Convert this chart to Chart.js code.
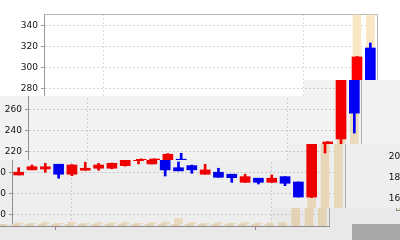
<!DOCTYPE html>
<html>
<head>
<meta charset="utf-8">
<script src="https://cdn.jsdelivr.net/npm/chart.js@4.4.1/dist/chart.umd.min.js"></script>
<style>
    html, body { margin: 0; padding: 0; background: #fff; overflow: hidden; }
    canvas { display: block; }
</style>
</head>
<body>
<canvas id="c" width="400" height="240"></canvas>
<script>
/* ── Data ── */
const days    = ['1','2','3','4','5','6','7','8','9','10','11','12','13','14','15','16','17','18','19','20','21','22','23','24','25'];
const opens   = [198.1, 203.0, 203.8, 208.3, 198.8, 202.6, 204.5, 204.5, 207.0, 211.7, 208.6, 213.1, 205.0, 207.0, 198.8, 200.7, 198.8, 191.1, 195.0, 191.1, 196.5, 191.4, 177.1, 232.4, 319.0];
const closes  = [200.7, 206.0, 205.9, 198.8, 207.6, 204.5, 207.6, 209.2, 213.0, 213.3, 217.8, 202.9, 202.0, 203.0, 202.9, 195.9, 195.5, 196.5, 191.1, 195.0, 190.2, 177.1, 229.5, 310.5, 257.0];
const highs   = [205.0, 207.6, 209.2, 208.3, 208.0, 210.2, 209.2, 209.5, 213.5, 213.5, 218.5, 218.8, 210.5, 207.5, 208.3, 204.5, 198.8, 198.8, 195.0, 198.1, 196.5, 191.4, 230.0, 311.0, 323.8];
const lows    = [198.1, 203.0, 200.7, 195.0, 197.4, 202.6, 202.6, 204.0, 206.5, 208.6, 208.6, 197.1, 202.0, 199.7, 198.8, 195.9, 191.1, 191.1, 189.5, 191.1, 187.9, 177.0, 176.5, 219.0, 238.0];
const volumes = [1.4, 1.2, 1.6, 1.3, 1.8, 1.2, 1.5, 1.4, 1.7, 1.3, 1.5, 1.8, 3.5, 1.6, 1.2, 1.5, 1.3, 1.6, 1.4, 1.5, 1.3, 1.6, 25, 99.5, 99.5];

const yTicks   = [160, 180, 200, 220, 240, 260, 280, 300, 320, 340];
const gridDays = [4, 19];
const yMin = 149.5, yMax = 351.4;

const UP   = '#ff0000';
const DOWN = '#0000ff';
const VOL  = '#f9e7c6';
const gridColor = '#d9d9d9';
const axisColor = '#9a9a9a';

/* ── Damaged image: 16px tiles, three tiles lost in the stream ── */
const TILE = 16;
const lostTiles   = [[19, 5], [18, 9], [17, 13]];
const regionShade = [0, 0.05, 0.068, 0.088];

const candleColor = opens.map((o, i) => closes[i] >= o ? UP : DOWN);

const background = {
    id: 'background',
    beforeDraw(chart) {
        const { ctx, width, height } = chart;
        ctx.save();
        ctx.fillStyle = '#fff';
        ctx.fillRect(0, 0, width, height);
        ctx.restore();
    }
};

const plotFrame = {
    id: 'plotFrame',
    beforeDatasetsDraw(chart) {
        const { ctx, chartArea: a } = chart;
        ctx.save();
        ctx.strokeStyle = '#b8b8b8';
        ctx.lineWidth = 1;
        ctx.beginPath();
        ctx.moveTo(a.left, Math.round(a.top) + 0.5);
        ctx.lineTo(Math.round(a.right) + 0.5, Math.round(a.top) + 0.5);
        ctx.lineTo(Math.round(a.right) + 0.5, a.bottom);
        ctx.stroke();
        ctx.restore();
    }
};

const tileShift = {
    id: 'tileShift',
    afterDraw(chart) {
        const cv = chart.canvas, ctx = chart.ctx;
        const copy = document.createElement('canvas');
        copy.width = cv.width;
        copy.height = cv.height;
        copy.getContext('2d').drawImage(cv, 0, 0);

        const cols = Math.ceil(cv.width / TILE), rows = Math.ceil(cv.height / TILE);
        const lost = lostTiles.map(([c, r]) => r * cols + c);

        ctx.save();
        ctx.setTransform(1, 0, 0, 1, 0, 0);
        for (let i = 0; i < cols * rows; i++) {
            const k = lost.filter(l => l <= i).length;
            if (!k) continue;
            const x = (i % cols) * TILE, y = Math.floor(i / cols) * TILE;
            const s = i + k;
            if (s >= cols * rows) {
                // nothing left in the stream for the last tiles
                ctx.fillStyle = '#a8a8a8';
                ctx.fillRect(x, y, TILE, TILE);
                ctx.fillStyle = '#bebebe';
                for (let dy = 3; dy < TILE; dy += 8)
                    for (let dx = 4; dx < TILE; dx += 9) ctx.fillRect(x + dx, y + dy, 1, 1);
                continue;
            }
            ctx.drawImage(copy, (s % cols) * TILE, Math.floor(s / cols) * TILE, TILE, TILE, x, y, TILE, TILE);
            ctx.fillStyle = `rgba(0,0,0,${regionShade[k]})`;
            ctx.fillRect(x, y, TILE, TILE);
        }
        ctx.restore();
    }
};

/* ── Chart ── */
new Chart(document.getElementById('c'), {
    type: 'bar',
    data: {
        labels: days,
        datasets: [
            {
                label: 'body',
                data: opens.map((o, i) => [o, closes[i]]),
                backgroundColor: candleColor,
                barThickness: 10,
                grouped: false,
                order: 1
            },
            {
                label: 'wick',
                data: lows.map((l, i) => [l, highs[i]]),
                backgroundColor: candleColor,
                barThickness: 2,
                grouped: false,
                order: 2
            },
            {
                label: 'volume',
                data: volumes,
                yAxisID: 'yVol',
                backgroundColor: VOL,
                barThickness: 8,
                grouped: false,
                order: 3
            }
        ]
    },
    options: {
        responsive: false,
        animation: false,
        devicePixelRatio: 1,
        events: [],
        layout: { padding: { top: 14, right: 23, left: 0, bottom: 0 } },
        plugins: { legend: { display: false }, tooltip: { enabled: false } },
        scales: {
            x: {
                offset: true,
                afterFit: s => { s.height = 14; },
                ticks: { display: false },
                grid: {
                    offset: false,
                    color: c => gridDays.includes(c.index) ? gridColor : 'transparent',
                    tickColor: c => gridDays.includes(c.index) ? axisColor : 'transparent',
                    tickLength: 4
                },
                border: { color: axisColor, dash: [2, 2] }
            },
            y: {
                min: yMin,
                max: yMax,
                afterBuildTicks: s => { s.ticks = yTicks.map(v => ({ value: v })); },
                afterFit: s => { s.width = 44; },
                ticks: { color: '#111', padding: 3, font: { family: 'DejaVu Sans', size: 9 } },
                grid: { color: gridColor, tickColor: axisColor, tickLength: 3 },
                border: { color: axisColor, dash: [2, 2] }
            },
            yVol: { display: false, min: 0, max: 100 }
        }
    },
    plugins: [background, plotFrame, tileShift]
});
</script>
</body>
</html>
